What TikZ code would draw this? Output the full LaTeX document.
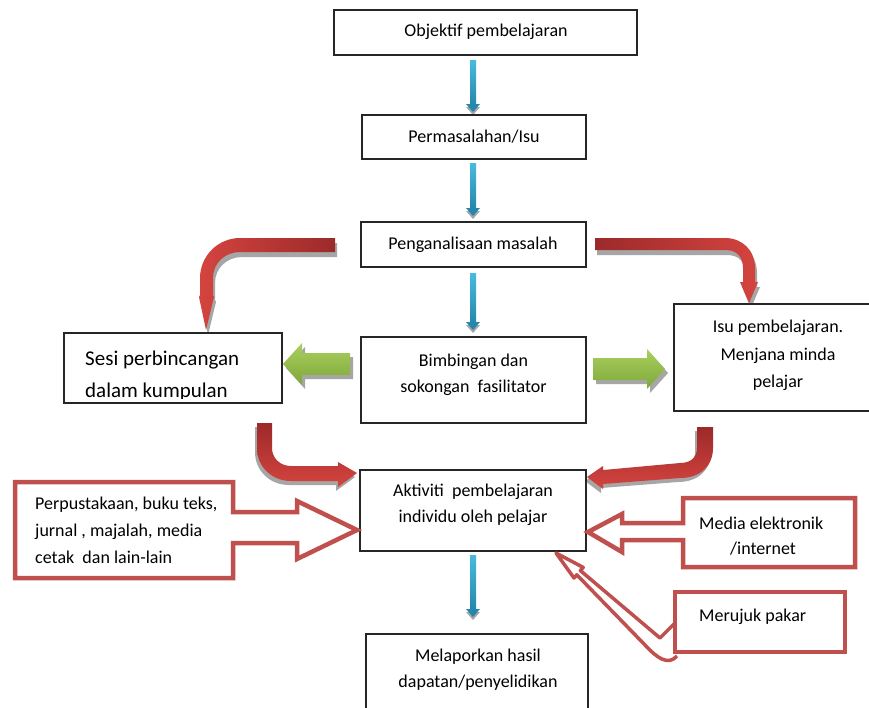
\documentclass[tikz,border=0pt]{standalone}
\usepackage{fontspec}
\setmainfont{Carlito}
\definecolor{calred}{HTML}{C0504D}
\definecolor{redD}{HTML}{9C2A2A}
\definecolor{redL}{HTML}{D4443F}
\definecolor{blueL}{HTML}{48BCDD}
\definecolor{blueD}{HTML}{2687AC}
\definecolor{greenL}{HTML}{AACF5E}
\definecolor{greenD}{HTML}{7DA83A}
\definecolor{shad}{HTML}{A6A6A6}
\newcommand\pathTL{(335,238) -- (240,238) .. controls (218,238) and (200,256) .. (200,278) -- (200,295) -- (199,297) -- (206,330) -- (214,297) -- (213,295) -- (213,278) .. controls (213,263) and (225,252) .. (240,252) -- (335,252) -- cycle}
\newcommand\pathTR{(595,238) -- (725,238) .. controls (742,238) and (755,250) .. (755,268) -- (755,282) -- (758,282) -- (749,303) -- (740,282) -- (743,282) -- (743,268) .. controls (743,257) and (737,250) .. (725,250) -- (595,250) -- cycle}
\newcommand\pathBL{(257,423) -- (257,448) .. controls (257,467) and (272,481) .. (291,481) -- (338,481) -- (338,487) -- (357,473) -- (338,462) -- (338,466) -- (291,466) .. controls (280,466) and (272,458) .. (272,448) -- (272,423) -- cycle}
\newcommand\pathBR{(697,427) -- (713,427) -- (713,448) .. controls (713,466) and (700,478) .. (680,478) -- (603,484) -- (603,489) -- (587,477) -- (603,466) -- (603,470) -- (680,463) .. controls (691,463) and (697,457) .. (697,448) -- cycle}
\newcommand\pathGL{(350,353) -- (302,353) -- (302,343) -- (283,364) -- (302,385) -- (302,375) -- (350,375) -- cycle}
\newcommand\pathGR{(593,358) -- (647,358) -- (647,349) -- (665,369) -- (647,389) -- (647,380) -- (593,380) -- cycle}
\newcommand\bluedown[3]{%
  \fill[shad] (#1-7,#3+3) -- (#1+7,#3+3) -- (#1,#3+11) -- cycle;
  \shade[top color=blueL,bottom color=blueD] (#1-3,#2) rectangle (#1+3,#3);
  \fill[blueD] (#1-7,#3) -- (#1+7,#3) -- (#1,#3+8) -- cycle;}
\begin{document}
\begin{tikzpicture}[x=1pt,y=-1pt,
  box/.style={draw=black!85,line width=1.2pt,fill=white,inner sep=0pt},
  txt/.style={font=\fontsize{18}{26}\selectfont,inner sep=0pt,align=center,text=black},
  txtl/.style={txt,align=left,anchor=west},
  callout/.style={draw=calred,line width=4.5pt,fill=white,line join=miter},
  callline/.style={draw=calred,line width=3.5pt,line join=round}]
\useasboundingbox (0,0) rectangle (869,707);
\fill[white] (0,0) rectangle (869,707);

% blue arrows
\bluedown{473}{60}{104}
\bluedown{473}{163}{208}
\bluedown{473}{273}{322}
\bluedown{473}{555}{609}

% red bent arrows
\fill[shad,shift={(2,5)}] \pathTL;
\shade[left color=redL,right color=redD] \pathTL;
\fill[shad,shift={(2,5)}] \pathTR;
\shade[left color=redD,right color=redL] \pathTR;
\fill[shad,shift={(-2,4)}] \pathBL;
\shade[top color=redD,bottom color=redL] \pathBL;
\fill[shad,shift={(-2,4)}] \pathBR;
\shade[top color=redD,bottom color=redL] \pathBR;

% green arrows
\fill[shad,shift={(3,4)}] \pathGL;
\shade[top color=greenL,bottom color=greenD] \pathGL;
\fill[shad,shift={(3,4)}] \pathGR;
\shade[top color=greenL,bottom color=greenD] \pathGR;

% boxes
\node[box,minimum width=303pt,minimum height=45pt] (obj) at (485.5,32.5) {};
\node[box,minimum width=224pt,minimum height=44pt] (perm) at (474,137) {};
\node[box,minimum width=225pt,minimum height=45pt] (peng) at (473.5,244.5) {};
\node[box,minimum width=225pt,minimum height=86pt] (bimb) at (473.5,380) {};
\node[box,minimum width=218pt,minimum height=70pt] (sesi) at (173,368) {};
\node[box,minimum width=201pt,minimum height=107pt] (isu) at (774.5,357.5) {};
\node[box,minimum width=226pt,minimum height=81pt] (akt) at (473,510.5) {};
\node[box,minimum width=222pt,minimum height=81pt] (mel) at (477,674.5) {};

% callouts
\draw[callout] (15,482) -- (233,482) -- (233,512) -- (297,512) -- (297,501) -- (357,530) -- (297,559) -- (297,543) -- (233,543) -- (233,578) -- (15,578) -- cycle;
\draw[callout] (855,498) -- (855,567) -- (683,567) -- (683,540) -- (622,540) -- (622,552) -- (588,532) -- (622,514) -- (622,523) -- (683,523) -- (683,498) -- cycle;
\draw[callline] (677,621) -- (660,638) -- (580.4,570.6) -- (583.2,567.4) -- (556,553) -- (574,578) -- (576.8,574.8) -- (645,645) .. controls (657,658) and (668,666) .. (677,656);
\draw[callout] (675,592) rectangle (845,652);

% texts
\node[txt] (obj-t) at (486,32) {Objektif pembelajaran};
\node[txt] (perm-t) at (474,137) {Permasalahan/Isu};
\node[txt] (peng-t) at (473,245) {Penganalisaan masalah};
\node[txt] (bimb-t) at (473.5,375) {Bimbingan dan\\sokongan\ \ fasilitator};
\begin{scope}
\clip (64,333) rectangle (282,398);
\node[txtl,font=\fontsize{21}{32}\selectfont] (sesi-t) at (85,376) {Sesi perbincangan\\dalam kumpulan};
\end{scope}
\node[txt,font=\fontsize{18}{27.5}\selectfont] (isu-t) at (778,355.5) {Isu pembelajaran.\\Menjana minda\\pelajar};
\node[txt] (akt-t) at (473,505) {Aktiviti\ \ pembelajaran\\individu oleh pelajar};
\node[txt] (mel-t) at (478,670) {Melaporkan hasil\\dapatan/penyelidikan};
\node[txtl,font=\fontsize{18}{27}\selectfont] (perp-t) at (35,530) {Perpustakaan, buku teks,\\jurnal , majalah, media\\cetak\ \ dan lain-lain};
\node[txtl] (media-t) at (699,523) {Media elektronik};
\node[txtl] (inet-t) at (730,549) {/internet};
\node[txtl] (pakar-t) at (699,617) {Merujuk pakar};
\end{tikzpicture}
\end{document}
